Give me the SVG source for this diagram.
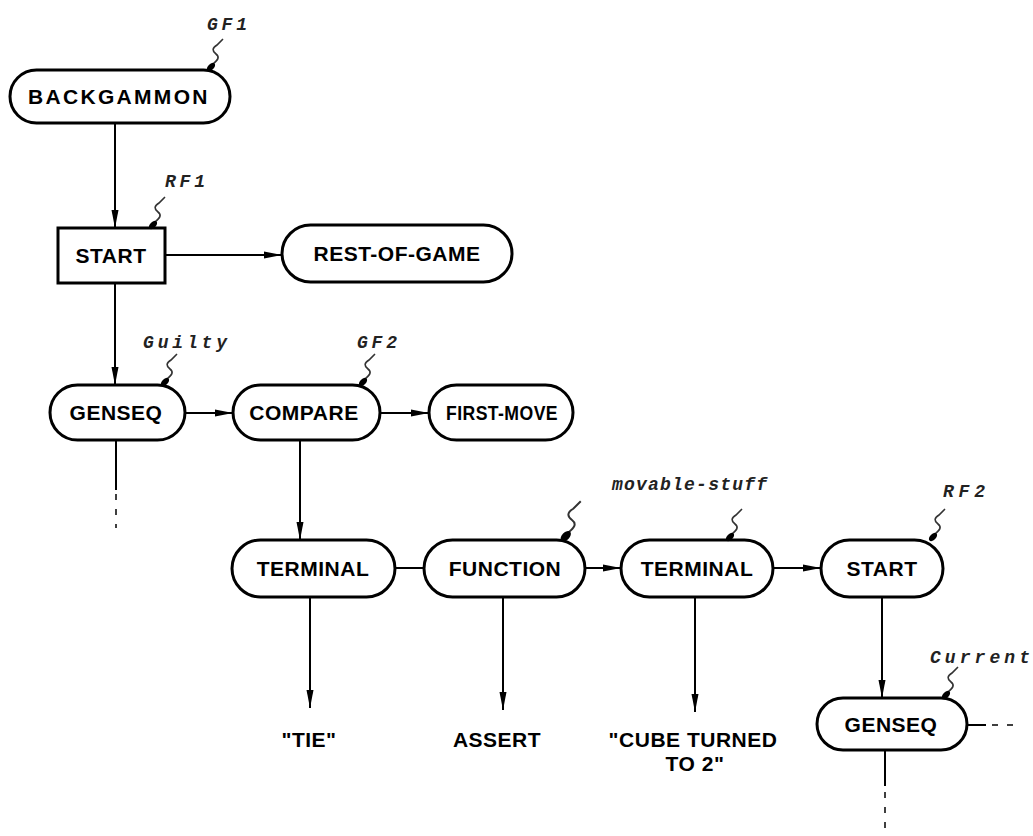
<svg xmlns="http://www.w3.org/2000/svg" width="1033" height="836" viewBox="0 0 1033 836">
<style>
.node{fill:#fff;stroke:#000;stroke-width:3}
.t{font-family:"Liberation Sans",Arial,sans-serif;font-weight:bold;font-size:21px;letter-spacing:0.5px;text-anchor:middle;fill:#000}
.lab{font-family:"Liberation Mono","Courier New",monospace;font-style:italic;font-weight:bold;font-size:18px;fill:#222}
.c{stroke:#000;stroke-width:2;fill:none}
.d{stroke:#000;stroke-width:1.5;fill:none;stroke-dasharray:6 9}
.sq{stroke:#333;stroke-width:1.6;fill:none}
</style>
<defs>
<marker id="ah" markerUnits="userSpaceOnUse" markerWidth="20" markerHeight="10" refX="18" refY="5" orient="auto">
<path d="M0,1.5 L18,5 L0,8.5 Z" fill="#000"/>
</marker>
<g id="sq">
<path class="sq" d="M0,0 L5,-6 C10,-10 12,-13 8,-16 C4,-19 4,-22 9,-25 L15,-31"/>
<ellipse cx="3" cy="-3" rx="5" ry="3" transform="rotate(-45 3 -3)" fill="#000"/>
</g>
</defs>

<g id="connectors">
<path class="c" d="M115,123 V228" marker-end="url(#ah)"/>
<path class="c" d="M165,255 H282" marker-end="url(#ah)"/>
<path class="c" d="M115,283 V385" marker-end="url(#ah)"/>
<path class="c" d="M185,413 H233" marker-end="url(#ah)"/>
<path class="c" d="M380,413 H429" marker-end="url(#ah)"/>
<path class="c" d="M116,440 V490"/>
<path class="d" d="M116,494 V528"/>
<path class="c" d="M300,440 V540" marker-end="url(#ah)"/>
<path class="c" d="M395,568 H424"/>
<path class="c" d="M585,568 H621" marker-end="url(#ah)"/>
<path class="c" d="M773,568 H821" marker-end="url(#ah)"/>
<path class="c" d="M310,597 V708" marker-end="url(#ah)"/>
<path class="c" d="M503,597 V710" marker-end="url(#ah)"/>
<path class="c" d="M695,597 V712" marker-end="url(#ah)"/>
<path class="c" d="M882,597 V698" marker-end="url(#ah)"/>
<path class="c" d="M967,725 H986"/>
<path class="d" d="M992,725 H1020"/>
<path class="c" d="M885,750 V786"/>
<path class="d" d="M885,792 V836"/>
</g>

<g id="n-backgammon">
<rect class="node" x="10" y="70" width="220" height="53" rx="26.5"/>
<text class="t" x="118" y="104" textLength="180" lengthAdjust="spacing">BACKGAMMON</text>
<use href="#sq" x="208" y="70"/>
<text class="lab" x="207" y="30" textLength="40">GF1</text>
</g>
<g id="n-start1">
<rect class="node" x="58" y="228" width="107" height="55"/>
<text class="t" x="111" y="263">START</text>
<use href="#sq" x="150" y="228"/>
<text class="lab" x="165" y="187" textLength="40">RF1</text>
</g>
<g id="n-rest">
<rect class="node" x="282" y="225" width="230" height="57" rx="28.5"/>
<text class="t" x="397" y="261">REST-OF-GAME</text>
</g>
<g id="n-genseq1">
<rect class="node" x="50" y="385" width="135" height="55" rx="27.5"/>
<text class="t" x="116" y="420">GENSEQ</text>
<use href="#sq" x="162" y="385"/>
<text class="lab" x="143" y="348" textLength="84">Guilty</text>
</g>
<g id="n-compare">
<rect class="node" x="233" y="385" width="147" height="55" rx="27.5"/>
<text class="t" x="304" y="420">COMPARE</text>
<use href="#sq" x="360" y="385"/>
<text class="lab" x="357" y="348" textLength="40">GF2</text>
</g>
<g id="n-firstmove">
<rect class="node" x="429" y="385" width="144" height="55" rx="27.5"/>
<text class="t" x="502" y="420" textLength="112" lengthAdjust="spacingAndGlyphs">FIRST-MOVE</text>
</g>
<g id="n-terminal1">
<rect class="node" x="232" y="540" width="163" height="57" rx="28.5"/>
<text class="t" x="313" y="576">TERMINAL</text>
</g>
<g id="n-function">
<rect class="node" x="424" y="540" width="161" height="57" rx="28.5"/>
<text class="t" x="505" y="576">FUNCTION</text>
<use href="#sq" x="562" y="540" transform="translate(562 540) scale(1.25) translate(-562 -540)"/>
</g>
<g id="n-terminal2">
<rect class="node" x="621" y="540" width="152" height="57" rx="28.5"/>
<text class="t" x="697" y="576">TERMINAL</text>
<use href="#sq" x="727" y="540"/>
<text class="lab" x="612" y="490" textLength="155">movable-stuff</text>
</g>
<g id="n-start2">
<rect class="node" x="821" y="540" width="122" height="57" rx="28.5"/>
<text class="t" x="882" y="576">START</text>
<use href="#sq" x="930" y="540"/>
<text class="lab" x="943" y="497" textLength="42">RF2</text>
</g>
<g id="n-genseq2">
<rect class="node" x="817" y="698" width="150" height="52" rx="26"/>
<text class="t" x="891" y="732">GENSEQ</text>
<use href="#sq" x="943" y="698"/>
<text class="lab" x="930" y="663" textLength="100">Current</text>
</g>
<g id="t-tie"><text class="t" x="309" y="747">"TIE"</text></g>
<g id="t-assert"><text class="t" x="497" y="747">ASSERT</text></g>
<g id="t-cube">
<text class="t" x="693" y="747">"CUBE TURNED</text>
<text class="t" x="695" y="771">TO 2"</text>
</g>
</svg>
